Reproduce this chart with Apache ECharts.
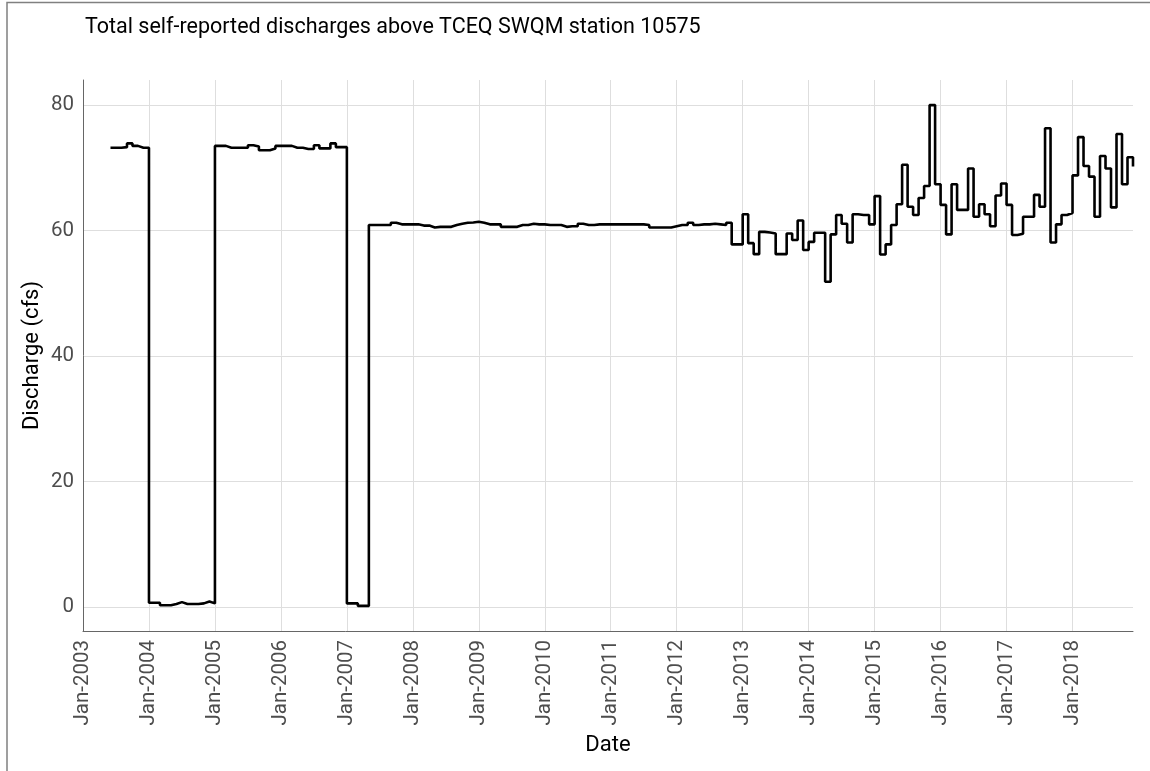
<!DOCTYPE html>
<html><head><meta charset="utf-8">
<script src="https://cdn.jsdelivr.net/npm/echarts@6/dist/echarts.min.js"></script>
<style>html,body{margin:0;padding:0;background:#fff}#c{width:1150px;height:771px}</style>
</head><body><div id="c"></div>
<script>
// ---- text ----
const titleText = 'Total self-reported discharges above TCEQ SWQM station 10575';
const xAxisTitle = 'Date';
const yAxisTitle = 'Discharge (cfs)';
const tickLabelPrefix = 'Jan-';
// ---- monthly discharge (cfs); first value = June 2003 ----
const firstYear = 2003, firstMonth = 6;
const q2003 = [73.2, 73.2, 73.3, 73.9, 73.5, 73.2, 73.2];
const q2004 = [0.7, 0.7, 0.3, 0.3, 0.5, 0.8, 0.5, 0.5, 0.5, 0.6, 0.9, 0.6];
const q2005 = [73.5, 73.5, 73.2, 73.2, 73.2, 73.2, 73.6, 73.4, 72.8, 72.8, 73.1, 73.5];
const q2006 = [73.5, 73.5, 73.2, 73.2, 73.0, 73.0, 73.6, 73.1, 73.1, 73.9, 73.3, 73.3];
const q2007 = [0.6, 0.6, 0.2, 0.2, 60.9, 60.9, 60.9, 60.9, 61.25, 61.0, 61.0, 61.0];
const q2008 = [61.0, 60.8, 60.8, 60.5, 60.6, 60.6, 60.6, 60.9, 61.1, 61.25, 61.3, 61.4];
const q2009 = [61.25, 61.0, 61.0, 61.0, 60.6, 60.6, 60.6, 60.9, 60.9, 61.1, 61.0, 61.0];
const q2010 = [60.9, 60.9, 60.9, 60.6, 60.7, 60.7, 61.1, 60.9, 60.9, 61.0, 61.0, 61.0];
const q2011 = [61.0, 61.0, 61.0, 61.0, 61.0, 61.0, 60.9, 60.5, 60.5, 60.5, 60.5, 60.7];
const q2012 = [60.9, 60.9, 61.25, 60.9, 61.0, 61.0, 61.1, 61.0, 60.9, 61.25, 57.8, 57.8];
const q2013 = [62.6, 58.0, 56.25, 59.8, 59.7, 59.55, 56.25, 56.25, 59.55, 58.5, 61.6, 56.9];
const q2014 = [58.2, 59.65, 59.65, 51.85, 59.4, 62.5, 61.1, 58.1, 62.6, 62.5, 62.5, 61.0];
const q2015 = [65.5, 56.2, 57.8, 60.9, 64.2, 70.5, 63.8, 62.5, 65.2, 67.1, 80.0, 67.4];
const q2016 = [64.1, 59.4, 67.4, 63.3, 63.3, 69.9, 62.2, 64.2, 62.6, 60.7, 65.6, 67.5];
const q2017 = [64.1, 59.3, 59.5, 62.2, 62.2, 65.7, 63.8, 76.3, 58.1, 61.0, 62.5, 62.8];
const q2018 = [68.8, 74.9, 70.3, 68.6, 62.2, 71.9, 69.9, 63.7, 75.4, 67.4, 71.7, 70.2];
const yearly = [q2003,q2004,q2005,q2006,q2007,q2008,q2009,q2010,q2011,q2012,q2013,q2014,q2015,q2016,q2017,q2018];

const points = [];
let yr = firstYear, mo = firstMonth;
yearly.forEach(arr => arr.forEach(v => {
  points.push([yr + (mo - 1) / 12, v]);
  mo++; if (mo > 12) { mo = 1; yr++; }
}));

const FONT = 'Roboto, sans-serif';
const chart = echarts.init(document.getElementById('c'), null, {renderer: 'canvas'});
chart.setOption({
  animation: false,
  backgroundColor: '#ffffff',
  title: {
    text: titleText, left: 85, top: 17, padding: 0,
    textStyle: {fontFamily: FONT, fontSize: 21.5, fontWeight: 'normal', color: '#000'}
  },
  graphic: [{
    type: 'rect', silent: true,
    shape: {x: 7, y: 2.5, width: 1160, height: 790},
    style: {fill: 'none', stroke: '#808080', lineWidth: 1.5}
  }],
  grid: {left: 83, right: 17, top: 80, bottom: 140, containLabel: false},
  xAxis: {
    type: 'value', min: 2003, max: 2018 + 11 / 12, interval: 1,
    name: xAxisTitle, nameLocation: 'middle', nameGap: 103, nameMoveOverlap: false,
    nameTextStyle: {fontFamily: FONT, fontSize: 22, color: '#000'},
    axisLine: {show: true, onZero: false, lineStyle: {color: '#666', width: 1}},
    axisTick: {show: false},
    axisLabel: {
      rotate: 90, margin: 9, fontFamily: FONT, fontSize: 20.5, color: '#4d4d4d',
      showMaxLabel: false,
      formatter: v => Math.abs(v - Math.round(v)) < 1e-6 ? tickLabelPrefix + Math.round(v) : ''
    },
    splitLine: {show: true, showMinLine: false, showMaxLine: false, lineStyle: {color: '#dedede', width: 1}}
  },
  yAxis: {
    type: 'value', min: -3.8, max: 84, splitNumber: 5,
    name: yAxisTitle, nameLocation: 'middle', nameGap: 40, nameRotate: 90, nameMoveOverlap: false,
    nameTextStyle: {fontFamily: FONT, fontSize: 22, color: '#000'},
    axisLine: {show: true, onZero: false, lineStyle: {color: '#666', width: 1}},
    axisTick: {show: false},
    axisLabel: {
      margin: 9, fontFamily: FONT, fontSize: 20.5, color: '#4d4d4d',
      showMinLabel: false, showMaxLabel: false,
      formatter: v => (Math.abs(v % 20) < 1e-6 ? String(v) : '')
    },
    splitLine: {show: true, showMinLine: false, showMaxLine: false, lineStyle: {color: '#dedede', width: 1}}
  },
  series: [{
    type: 'line', step: 'end', data: points, showSymbol: false, symbol: 'none',
    lineStyle: {color: '#000', width: 2.6}, clip: true
  }]
});
</script></body></html>
